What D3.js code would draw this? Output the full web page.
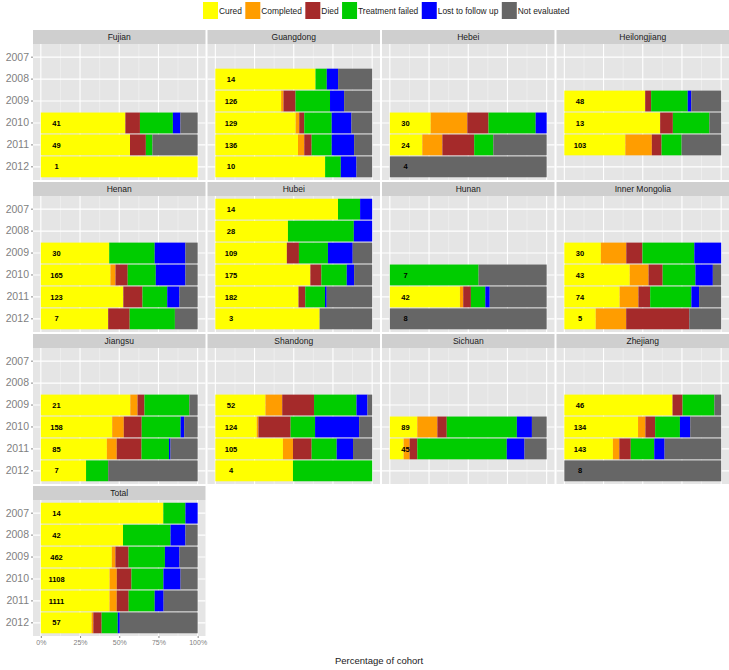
<!DOCTYPE html>
<html><head><meta charset="utf-8">
<script src="https://cdn.jsdelivr.net/npm/d3@7"></script>
<style>
body{margin:0;background:#fff}
svg{display:block}
text{font-family:"Liberation Sans",Arial,sans-serif}
</style>
</head><body>
<svg id="c" width="729" height="670"></svg>
<script>
// ---------------- data ----------------
const years = ["2007","2008","2009","2010","2011","2012"];
const panelNames = ["Fujian","Guangdong","Hebei","Heilongjiang","Henan","Hubei","Hunan",
  "Inner Mongolia","Jiangsu","Shandong","Sichuan","Zhejiang","Total"];
const seriesKeys = ["cured","completed","died","failed","lost","notEval"];
const seriesNames = ["Cured","Completed","Died","Treatment failed","Lost to follow up","Not evaluated"];
const seriesColors = ["#ffff00","#ff9d00","#a52a2a","#00cc00","#0000ff","#666666"];
const xTickValues = [0, 0.25, 0.5, 0.75, 1];
const xTickLabels = ["0%","25%","50%","75%","100%"];
const xAxisTitle = "Percentage of cohort";

// [panel, year, cohort size, cured, completed, died, failed, lost, not evaluated] (% of cohort)
const cohorts = [
  ["Fujian","2010",41,   53.9,0,9.3,21,4.8,11],
  ["Fujian","2011",49,   56.8,0,10.1,4.2,0,28.8],
  ["Fujian","2012",1,    100,0,0,0,0,0],
  ["Guangdong","2008",14,  63.8,0,0,7.2,7.2,21.7],
  ["Guangdong","2009",126, 42,1.5,7.7,22,9,17.9],
  ["Guangdong","2010",129, 51.2,2.3,3.2,17.5,12.6,13.2],
  ["Guangdong","2011",136, 52.7,4,4.7,12.8,14.3,11.5],
  ["Guangdong","2012",10,  70,0,0,10,10,10],
  ["Hebei","2010",30,  26,23.3,13.5,30,7,0],
  ["Hebei","2011",24,  20.7,12.8,20.3,12.2,0,34],
  ["Hebei","2012",4,   0,0,0,0,0,100],
  ["Heilongjiang","2009",48,  51.5,0,3.8,23.3,2.3,19],
  ["Heilongjiang","2010",13,  61.1,0,8.1,23.3,0,7.5],
  ["Heilongjiang","2011",103, 38.9,16.9,6.2,12.8,0,25.2],
  ["Henan","2009",30,  43.6,0,0,29,19.6,7.8],
  ["Henan","2010",165, 44.4,3.2,7.8,17.9,18.9,7.8],
  ["Henan","2011",123, 52.6,0,12.2,15.8,7.8,11.6],
  ["Henan","2012",7,   42.9,0,13.7,28.8,0,14.5],
  ["Hubei","2007",14,  78.3,0,0,14.1,7.7,0],
  ["Hubei","2008",28,  46.3,0,0,42,11.7,0],
  ["Hubei","2009",109, 45.6,0,7.7,18.5,15.8,12.4],
  ["Hubei","2010",175, 60.6,0,7,16.2,4.7,11.5],
  ["Hubei","2011",182, 53.1,0,4.3,12.6,1.1,29],
  ["Hubei","2012",3,   66.5,0,0,0,0,33.5],
  ["Hunan","2010",7,   0,0,0,56.6,0,43.4],
  ["Hunan","2011",42,  44.7,2.1,4.9,9.2,2.8,36.3],
  ["Hunan","2012",8,   0,0,0,0,0,100],
  ["Inner Mongolia","2009",30, 23.3,16.2,10.3,33.1,17.1,0],
  ["Inner Mongolia","2010",43, 41.7,12,9,20.9,11.1,5.3],
  ["Inner Mongolia","2011",74, 35.3,12,7.5,26.3,4.9,14.1],
  ["Inner Mongolia","2012",5,  20,19.4,40.2,0,0,20.3],
  ["Jiangsu","2009",21,  57,4.6,4.4,28.6,0,5.3],
  ["Jiangsu","2010",158, 45.5,7.4,11.4,24.8,2.3,8.6],
  ["Jiangsu","2011",85,  42.1,6.3,15.8,17.5,1,17.3],
  ["Jiangsu","2012",7,   28.8,0,0,14.1,0,57],
  ["Shandong","2009",52,  32,10.7,20.3,27.1,7,3],
  ["Shandong","2010",124, 26.4,1.1,20.5,15.6,28.1,8.3],
  ["Shandong","2011",105, 43.1,6.4,11.9,16,10.4,12.2],
  ["Shandong","2012",4,   49.5,0,0,50.5,0,0],
  ["Sichuan","2010",89, 17.5,12.8,6,44.7,9.6,9.4],
  ["Sichuan","2011",45, 8.8,3.8,4.9,57,11.3,14.1],
  ["Zhejiang","2009",46,  69,0,6.4,20.3,0,4.3],
  ["Zhejiang","2010",134, 47,4.7,6.2,15.8,6.6,19.7],
  ["Zhejiang","2011",143, 31,4.1,7.3,15,6.6,36.1],
  ["Zhejiang","2012",8,   0,0,0,0,0,100],
  ["Total","2007",14,   78.1,0,0,14.1,7.8,0],
  ["Total","2008",42,   52.4,0,0,30.3,9.5,7.8],
  ["Total","2009",462,  45.3,2.3,8.4,23.2,9.3,11.6],
  ["Total","2010",1108, 43.8,4.6,9.3,20.4,10.9,10.9],
  ["Total","2011",1111, 43.8,4.6,7.6,16.6,5.7,21.7],
  ["Total","2012",57,   32.4,1.1,5.3,10.3,1.3,49.7]
];

// ---------------- layout ----------------
const svg = d3.select("#c");
const col0 = 33, colStep = 174.5, panelW = 172.5;
const row0 = 30, rowStep = 152, stripH = 14, bodyH = 136;
const nCols = 4;

const rows = cohorts.map(r => {
  const o = {panel: r[0], year: r[1], n: r[2]};
  seriesKeys.forEach((k, i) => o[k] = r[3 + i]);
  return o;
});

const color = d3.scaleOrdinal().domain(seriesKeys).range(seriesColors);
const x = d3.scaleLinear().domain([-0.05, 1.05]).range([0, panelW]);
const y = d3.scaleBand().domain(years).range([0, bodyH])
  .paddingInner(0.05).paddingOuter(0.125);

const stack = d3.stack().keys(seriesKeys).offset(d3.stackOffsetExpand);

panelNames.forEach((p, pi) => {
  const c = pi % nCols, r = Math.floor(pi / nCols);
  const g = svg.append("g").attr("transform", `translate(${col0 + c * colStep},${row0 + r * rowStep})`);
  // strip
  g.append("rect").attr("x", 0).attr("y", 0).attr("width", panelW).attr("height", stripH).attr("fill", "#cfcfcf");
  g.append("text").attr("x", panelW / 2).attr("y", stripH / 2).attr("dy", "0.35em")
    .attr("text-anchor", "middle").attr("font-size", 8.5).attr("fill", "#1a1a1a").text(p);
  const b = g.append("g").attr("transform", `translate(0,${stripH})`);
  b.append("rect").attr("width", panelW).attr("height", bodyH).attr("fill", "#e5e5e5");
  // grid
  d3.range(0, 1.0001, 0.125).forEach((v, i) => {
    b.append("line").attr("x1", x(v)).attr("x2", x(v)).attr("y1", 0).attr("y2", bodyH)
      .attr("stroke", i % 2 === 0 ? "#ffffff" : "#f4f4f4").attr("stroke-width", i % 2 === 0 ? 1.1 : 0.6);
  });
  years.forEach(yr => {
    const yc = y(yr) + y.bandwidth() / 2;
    b.append("line").attr("x1", 0).attr("x2", panelW).attr("y1", yc).attr("y2", yc)
      .attr("stroke", "#ffffff").attr("stroke-width", 1.1);
  });
  // bars
  const pr = rows.filter(d => d.panel === p);
  const st = stack(pr);
  st.forEach(layer => {
    b.append("g").attr("fill", color(layer.key)).selectAll("rect").data(layer).join("rect")
      .attr("x", d => x(d[0]))
      .attr("width", d => Math.max(0, x(d[1]) - x(d[0])))
      .attr("y", d => y(d.data.year))
      .attr("height", y.bandwidth());
  });
  // labels
  b.selectAll("text.n").data(pr).join("text").attr("class", "n")
    .attr("x", x(0.10)).attr("y", d => y(d.year) + y.bandwidth() / 2).attr("dy", "0.35em")
    .attr("text-anchor", "middle").attr("font-size", 7.5).attr("font-weight", "bold")
    .attr("fill", "#000").text(d => d.n);
  // y axis on first column
  if (c === 0) {
    const ax = b.append("g").call(d3.axisLeft(y).tickSize(2).tickPadding(2));
    ax.select(".domain").remove();
    ax.selectAll(".tick line").attr("stroke", "#8a8a8a");
    ax.selectAll(".tick text").attr("font-size", 10.5).attr("fill", "#7f7f7f")
      .style("font-family", "'Liberation Sans',Arial,sans-serif");
  }
  // x axis for the last panel (Total)
  if (pi === panelNames.length - 1) {
    const ax = b.append("g").attr("transform", `translate(0,${bodyH})`)
      .call(d3.axisBottom(x).tickValues(xTickValues).tickFormat((d, i) => xTickLabels[i]).tickSize(2).tickPadding(2));
    ax.select(".domain").remove();
    ax.selectAll(".tick line").attr("stroke", "#8a8a8a");
    ax.selectAll(".tick text").attr("font-size", 7).attr("fill", "#7f7f7f")
      .style("font-family", "'Liberation Sans',Arial,sans-serif");
  }
});

// axis title
svg.append("text").attr("x", 379).attr("y", 661).attr("dy", "0.35em").attr("text-anchor", "middle")
  .attr("font-size", 9.5).attr("fill", "#1a1a1a").text(xAxisTitle);

// legend
const lg = svg.append("g");
let lx = 203;
seriesKeys.forEach((k, i) => {
  lg.append("rect").attr("x", lx).attr("y", 2).attr("width", 15).attr("height", 17).attr("fill", seriesColors[i]);
  const t = lg.append("text").attr("x", lx + 16).attr("y", 11).attr("dy", "0.35em")
    .attr("font-size", 8.4).attr("fill", "#1a1a1a").text(seriesNames[i]);
  lx += 16 + t.node().getComputedTextLength() + 3.5;
});
</script>
</body></html>
